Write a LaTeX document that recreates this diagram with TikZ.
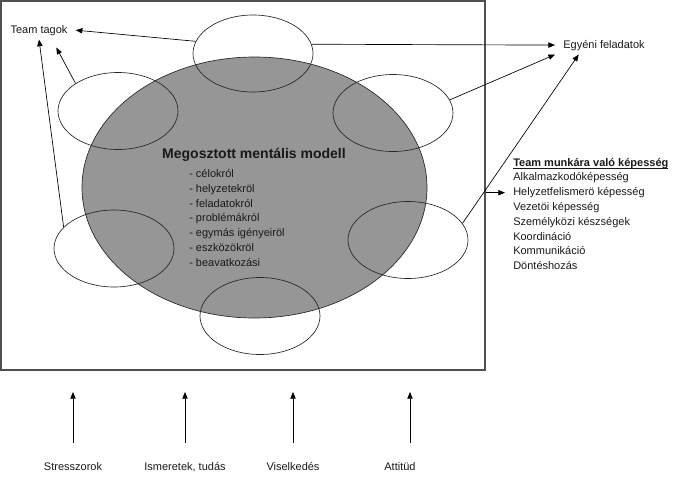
\documentclass[tikz,border=0pt]{standalone}
\usepackage{fontspec}
\setmainfont{Liberation Sans}
\usetikzlibrary{shapes.geometric,arrows.meta}
\definecolor{modelgray}{RGB}{150,150,150}
\definecolor{framegray}{RGB}{80,80,80}

\tikzstyle{member} = [ellipse, minimum width=90pt, minimum height=57.75pt, inner sep=0pt, draw=black!85, line width=.5pt]
\tikzstyle{model} = [ellipse, minimum width=258.75pt, minimum height=195.75pt, inner sep=0pt, draw=black!85, fill=modelgray, line width=.5pt]
\tikzstyle{txt} = [font=\fontsize{8.25}{10}\selectfont, text=black!90, inner xsep=6pt, inner ysep=3pt]
\tikzstyle{arr} = [-{Triangle[length=5pt,width=4pt]}, line width=.5pt]

\begin{document}
\begin{tikzpicture}[x=.75pt,y=-.75pt]
\useasboundingbox (0,0) rectangle (700,482);
%Frame
\node (frame) [draw=framegray, line width=.9pt, minimum width=363pt, minimum height=276.75pt, inner sep=0pt] at (243,185.5) {};

%Shared model
\node (model) [model] at (254.5,187.5) {};
\node (title) [txt, anchor=base, font=\fontsize{10.5}{12}\selectfont\bfseries] at (254,158) {Megosztott mentális modell};
\node (t1) [txt, anchor=base west] at (181,177.5) {- célokról};
\node (t2) [txt, anchor=base west] at ([yshift=-11.1pt]t1.base west) {- helyzetekröl};
\node (t3) [txt, anchor=base west] at ([yshift=-11.1pt]t2.base west) {- feladatokról};
\node (t4) [txt, anchor=base west] at ([yshift=-11.1pt]t3.base west) {- problémákról};
\node (t5) [txt, anchor=base west] at ([yshift=-11.1pt]t4.base west) {- egymás igényeiröl};
\node (t6) [txt, anchor=base west] at ([yshift=-11.1pt]t5.base west) {- eszközökröl};
\node (t7) [txt, anchor=base west] at ([yshift=-11.1pt]t6.base west) {- beavatkozási};

%Members
\node (mtop) [member] at (253,53.5) {};
\node (mul) [member] at (118,111) {};
\node (mur) [member] at (393,113) {};
\node (mll) [member] at (114,248.5) {};
\node (mlr) [member] at (408,240) {};
\node (mbot) [member] at (260,316) {};

%Outputs
\node (tt) [txt, anchor=base] at (39,33) {Team tagok};
\node (ef) [txt, anchor=base] at (604,48) {Egyéni feladatok};

%Skills
\node (skills) [txt, anchor=base west] at (505,166) {\underline{\raisebox{0pt}[\height][0pt]{\textbf{Team munkára való képesség}}}};
\node (s1) [txt, anchor=base west] at ([yshift=-11.1pt]skills.base west) {Alkalmazkodóképesség};
\node (s2) [txt, anchor=base west] at ([yshift=-11.1pt]s1.base west) {Helyzetfelismerö képesség};
\node (s3) [txt, anchor=base west] at ([yshift=-11.1pt]s2.base west) {Vezetöi képesség};
\node (s4) [txt, anchor=base west] at ([yshift=-11.1pt]s3.base west) {Személyközi készségek};
\node (s5) [txt, anchor=base west] at ([yshift=-11.1pt]s4.base west) {Koordináció};
\node (s6) [txt, anchor=base west] at ([yshift=-11.1pt]s5.base west) {Kommunikáció};
\node (s7) [txt, anchor=base west] at ([yshift=-11.1pt]s6.base west) {Döntéshozás};

%Inputs
\coordinate (inputs) at (0,392);
\coordinate (attin) at (410,392);
\node (stress) [txt, anchor=base] at (73,470.5) {Stresszorok};
\node (know) [txt, anchor=base] at (185,470.5) {Ismeretek, tudás};
\node (behav) [txt, anchor=base] at (293,470.5) {Viselkedés};
\node (att) [txt, anchor=base] at (400,470.5) {Attitüd};

%Arrows
\draw [arr] (mtop.168) -- (tt.east);
\draw [arr] (mul.147) -- ([xshift=13pt,yshift=-6pt]tt.south);
\draw [arr] (mll.157) -- (tt.south);
\draw [arr] (mtop.9) -- (ef.west);
\draw [arr] (mur.13) -- (ef.south west);
\draw [arr] (mlr.17) -- ([xshift=-19pt]ef.south);
\draw [arr] (frame.east |- s2.west) -- (s2.west);
\draw [arr, shorten <=11.6pt] (stress.north) -- (stress.north |- inputs);
\draw [arr, shorten <=11.6pt] (know.north) -- (know.north |- inputs);
\draw [arr, shorten <=11.6pt] (behav.north) -- (behav.north |- inputs);
\draw [arr, shorten <=11.6pt] (att.north -| attin) -- (attin);

\end{tikzpicture}
\end{document}
